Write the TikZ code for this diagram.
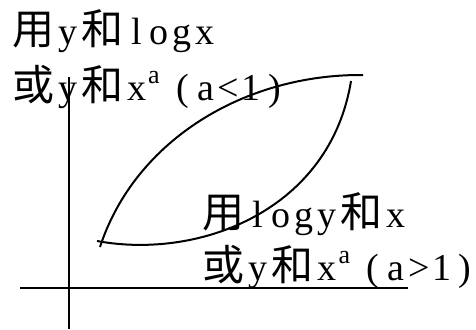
\documentclass[tikz,border=0pt]{standalone}
\usepackage{fontspec}
\setmainfont{Liberation Serif}
\newfontfamily\cjk{Noto Sans CJK SC}
\makeatletter
\newcommand\hws[1]{\@tfor\ch:=#1\do{\makebox[23pt]{\ch}}}
\makeatother
\newcommand\zi[1]{\makebox[46pt]{\cjk\fontsize{42}{42}\selectfont #1}}
\newcommand\supa{\makebox[23pt][l]{\raisebox{17pt}{\fontsize{26}{26}\selectfont a}}}
\begin{document}
\begin{tikzpicture}[x=1pt, y=-1pt, line width=2pt,
  lbl/.style={anchor=base west, inner sep=0pt, font=\fontsize{38}{38}\selectfont}]
\useasboundingbox (0,0) rectangle (476,329);
\node[lbl] (useA) at (9,45) {\zi{用}\hws{y}\zi{和}\hws{logx}};
\node[lbl] (orA) at (9,100) {\zi{或}\hws{y}\zi{和}\hws{x}\supa\hws{(a<1)}};
\node[lbl] (useB) at (199.5,227) {\zi{用}\hws{logy}\zi{和}\hws{x}};
\node[lbl] (orB) at (199.5,280) {\zi{或}\hws{y}\zi{和}\hws{x}\supa\hws{(a>1)}};
\draw (20,288) -- (408,288);
\draw (69,77) -- (69,329);
\draw (100,247) .. controls (135,140) and (245,74) .. (363,75);
\draw (97,241) .. controls (200,260) and (330,210) .. (351,81);
\end{tikzpicture}
\end{document}
